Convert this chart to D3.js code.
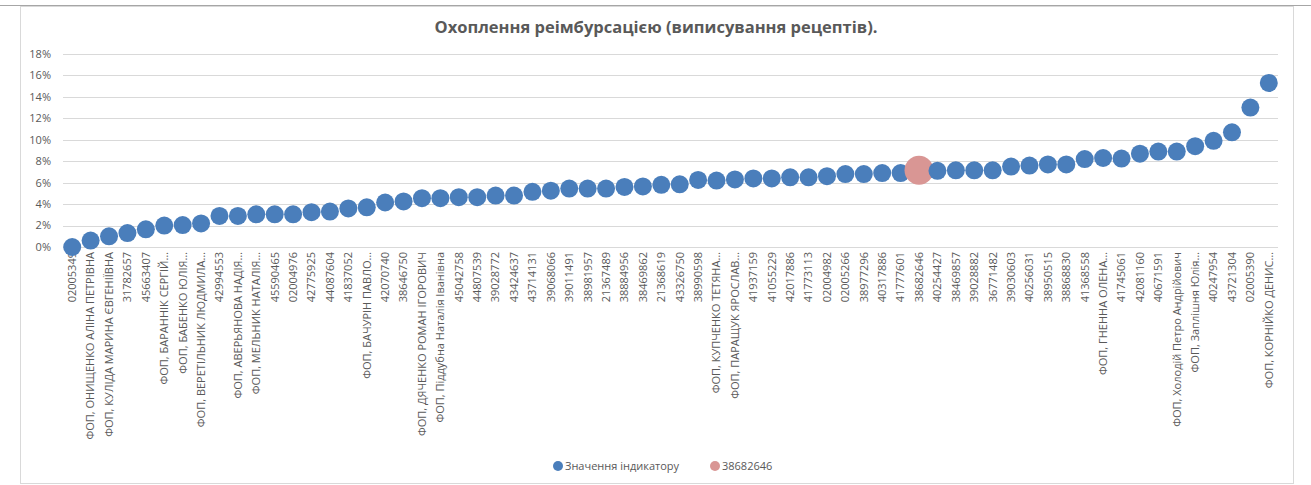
<!DOCTYPE html>
<html>
<head>
<meta charset="utf-8">
<script src="https://cdn.jsdelivr.net/npm/d3@7"></script>
<style>body{margin:0;background:#fff;}</style>
</head>
<body>
<script>
const title = "Охоплення реімбурсацією (виписування рецептів).";

const labels = [
  "02005349", "ФОП, ОНИЩЕНКО АЛІНА ПЕТРІВНА", "ФОП, КУЛІДА МАРИНА ЄВГЕНІЇВНА", "31782657", "45663407",
  "ФОП, БАРАННІК СЕРГІЙ…", "ФОП, БАБЕНКО ЮЛІЯ…", "ФОП, ВЕРЕТІЛЬНИК ЛЮДМИЛА…", "42994553", "ФОП, АВЕРЬЯНОВА НАДІЯ…",
  "ФОП, МЕЛЬНИК НАТАЛІЯ…", "45590465", "02004976", "42775925", "44087604",
  "41837052", "ФОП, БАЧУРІН ПАВЛО…", "42070740", "38646750", "ФОП, ДЯЧЕНКО РОМАН ІГОРОВИЧ",
  "ФОП, Піддубна Наталія Іванівна", "45042758", "44807539", "39028772", "43424637",
  "43714131", "39068066", "39011491", "38981957", "21367489",
  "38884956", "38469862", "21368619", "43326750", "38990598",
  "ФОП, КУПЧЕНКО ТЕТЯНА…", "ФОП, ПАРАЩУК ЯРОСЛАВ…", "41937159", "41055229", "42017886",
  "41773113", "02004982", "02005266", "38977296", "40317886",
  "41777601", "38682646", "40254427", "38469857", "39028882",
  "36771482", "39030603", "40256031", "38950515", "38868830",
  "41368558", "ФОП, ГНЕННА ОЛЕНА…", "41745061", "42081160", "40671591",
  "ФОП, Холодій Петро Андрійович", "ФОП, Заплішня Юлія…", "40247954", "43721304", "02005390",
  "ФОП, КОРНІЙКО ДЕНИС…"
];

const values = [
  0.000, 0.006, 0.010, 0.013, 0.0165,
  0.020, 0.0205, 0.022, 0.029, 0.029,
  0.0305, 0.0305, 0.0305, 0.0325, 0.033,
  0.036, 0.037, 0.0415, 0.0425, 0.0455,
  0.0455, 0.0465, 0.0465, 0.048, 0.048,
  0.0515, 0.0525, 0.0545, 0.0545, 0.0545,
  0.056, 0.0565, 0.058, 0.0585, 0.0625,
  0.062, 0.063, 0.064, 0.064, 0.065,
  0.065, 0.066, 0.068, 0.068, 0.069,
  0.069, 0.0715, 0.071, 0.0715, 0.0715,
  0.0715, 0.075, 0.076, 0.077, 0.077,
  0.082, 0.083, 0.0825, 0.087, 0.089,
  0.089, 0.094, 0.099, 0.107, 0.130,
  0.153
];

const highlight = "38682646";
const yTicks = [0, 0.02, 0.04, 0.06, 0.08, 0.10, 0.12, 0.14, 0.16, 0.18];
const legendItems = ["Значення індикатору", "38682646"];

const W = 1311, H = 485;
const blue = "#4a7ebb", pink = "#d99694", textCol = "#595959", grid = "#d9d9d9";
const font = "'Open Sans', 'Liberation Sans', sans-serif";

const svg = d3.select("body").append("svg")
  .attr("width", W)
  .attr("height", H);

// frame
svg.append("rect")
  .attr("x", 20.5).attr("y", 6.5)
  .attr("width", 1273).attr("height", 477)
  .attr("fill", "#fff")
  .attr("stroke", "#d9d9d9");
svg.append("line")
  .attr("x1", 0).attr("x2", W)
  .attr("y1", 5.5).attr("y2", 5.5)
  .attr("stroke", "#a6a6a6");

svg.append("text")
  .attr("x", 656).attr("y", 33)
  .attr("text-anchor", "middle")
  .attr("font-family", font)
  .attr("font-size", 16.5)
  .attr("font-weight", "bold")
  .attr("fill", textCol)
  .text(title);

const x = d3.scaleBand()
  .domain(d3.range(labels.length))
  .range([63, 1278]);

const y = d3.scaleLinear()
  .domain([0, 0.18])
  .range([247, 54]);

// gridlines + y labels
const gy = svg.append("g");
gy.selectAll("line").data(yTicks)
  .enter().append("line")
  .attr("x1", 63).attr("x2", 1278)
  .attr("y1", d => Math.round(y(d)) + 0.5)
  .attr("y2", d => Math.round(y(d)) + 0.5)
  .attr("stroke", grid);

gy.selectAll("text").data(yTicks)
  .enter().append("text")
  .attr("x", 51)
  .attr("y", d => y(d))
  .attr("dy", "0.35em")
  .attr("text-anchor", "end")
  .attr("font-family", font)
  .attr("font-size", 11)
  .attr("fill", textCol)
  .text(d => d3.format(".0%")(d));

// x labels
svg.append("g").selectAll("text").data(labels)
  .enter().append("text")
  .attr("transform", (d, i) => `translate(${x(i) + x.bandwidth() / 2}, 252) rotate(-90)`)
  .attr("dy", "0.35em")
  .attr("text-anchor", "end")
  .attr("font-family", font)
  .attr("font-size", 11)
  .attr("fill", textCol)
  .text(d => d);

// points
const pts = labels.map((l, i) => ({label: l, value: values[i], i: i}));
svg.append("g").selectAll("circle").data(pts)
  .enter().append("circle")
  .attr("cx", d => x(d.i) + x.bandwidth() / 2)
  .attr("cy", d => y(d.value))
  .attr("r", d => d.label === highlight ? 14.5 : 9)
  .attr("fill", d => d.label === highlight ? pink : blue);

// legend
const lg = svg.append("g");
const legendX = [558, 715];
const legendCol = [blue, pink];
legendItems.forEach((t, i) => {
  lg.append("circle")
    .attr("cx", legendX[i]).attr("cy", 466).attr("r", 5)
    .attr("fill", legendCol[i]);
  lg.append("text")
    .attr("x", legendX[i] + 7).attr("y", 466)
    .attr("dy", "0.35em")
    .attr("font-family", font)
    .attr("font-size", 11)
    .attr("fill", textCol)
    .text(t);
});
</script>
</body>
</html>
